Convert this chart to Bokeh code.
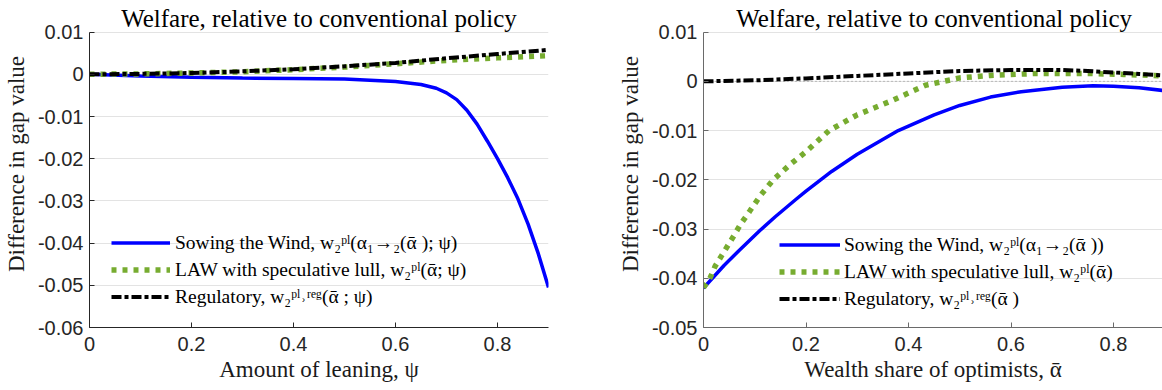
from bokeh.plotting import figure
from bokeh.models import Legend, LegendItem, Label, Span
from bokeh.layouts import row
from bokeh.embed import file_html
from bokeh.resources import INLINE

# ---------------- data ----------------
# Left panel: amount of leaning psi
psi_sow = [0, 0.1, 0.2, 0.3, 0.4, 0.5, 0.57, 0.6, 0.65, 0.68, 0.7, 0.72, 0.74, 0.76, 0.78, 0.8, 0.82,
           0.84, 0.86, 0.88, 0.9]
sow_left = [0, -0.0004, -0.0007, -0.0009, -0.001, -0.0011, -0.0015, -0.0017, -0.0024, -0.0033, -0.0044,
            -0.006, -0.0085, -0.0118, -0.0158, -0.020, -0.0245, -0.0295, -0.0355, -0.0425, -0.0505]
psi_grid = [0, 0.1, 0.2, 0.3, 0.4, 0.5, 0.6, 0.7, 0.8, 0.9]
law_left = [0, 0.0001, 0.0003, 0.0006, 0.0011, 0.0017, 0.0025, 0.0033, 0.0039, 0.0044]
reg_left = [0, 0.0001, 0.0003, 0.0007, 0.0012, 0.0019, 0.0027, 0.0038, 0.0048, 0.0058]

# Right panel: wealth share of optimists
alpha_sow = [0, 0.04, 0.07, 0.11, 0.14, 0.18, 0.2, 0.25, 0.3, 0.38, 0.45, 0.5, 0.56, 0.62, 0.7, 0.76, 0.8, 0.85, 0.9]
sow_right = [-0.042, -0.0374, -0.0343, -0.0303, -0.0275, -0.024, -0.0223, -0.0183, -0.0148, -0.01, -0.0068,
             -0.0049, -0.0032, -0.0021, -0.0012, -0.0009, -0.0010, -0.0013, -0.0019]
alpha_law = [0, 0.013, 0.023, 0.036, 0.059, 0.072, 0.09, 0.111, 0.136, 0.17, 0.2, 0.245, 0.3, 0.368, 0.433,
             0.5, 0.56, 0.65, 0.75, 0.82, 0.9]
law_right = [-0.0419, -0.0399, -0.0375, -0.0353, -0.0314, -0.0291, -0.0264, -0.0232, -0.0200, -0.0168, -0.0143,
             -0.0100, -0.0068, -0.0039, -0.0008, 0.0007, 0.0012, 0.0016, 0.0016, 0.0014, 0.0011]
alpha_reg = [0, 0.1, 0.2, 0.3, 0.4, 0.5, 0.6, 0.7, 0.75, 0.8, 0.85, 0.9]
reg_right = [0, 0.0002, 0.0006, 0.0011, 0.0016, 0.0021, 0.0023, 0.0023, 0.0021, 0.0018, 0.0015, 0.0012]

x_ticks = [0, 0.2, 0.4, 0.6, 0.8]
x_tick_labels = ["0", "0.2", "0.4", "0.6", "0.8"]
y_ticks_left = [0.01, 0, -0.01, -0.02, -0.03, -0.04, -0.05, -0.06]
y_labels_left = ["0.01", "0", "-0.01", "-0.02", "-0.03", "-0.04", "-0.05", "-0.06"]
y_ticks_right = [0.01, 0, -0.01, -0.02, -0.03, -0.04, -0.05]
y_labels_right = ["0.01", "0", "-0.01", "-0.02", "-0.03", "-0.04", "-0.05"]

title_text = "Welfare, relative to conventional policy"
ylabel_text = "Difference in gap value"
xlabel_left = "Amount of leaning, \u03c8"
xlabel_right = "Wealth share of optimists, \u1fb1"

leg_left = ["Sowing the Wind, w\u2082\u1d56\u02e1(\u03b1\u2081\u2192\u2082(\u1fb1 ); \u03c8)",
            "LAW with speculative lull, w\u2082\u1d56\u02e1(\u1fb1; \u03c8)",
            "Regulatory, w\u2082\u1d56\u02e1\u02d2\u02b3\u1d49\u1d4d(\u1fb1 ; \u03c8)"]
leg_right = ["Sowing the Wind, w\u2082\u1d56\u02e1(\u03b1\u2081\u2192\u2082(\u1fb1 ))",
             "LAW with speculative lull, w\u2082\u1d56\u02e1(\u1fb1)",
             "Regulatory, w\u2082\u1d56\u02e1\u02d2\u02b3\u1d49\u1d4d(\u1fb1 )"]

BLUE = "#0000ff"
GREEN = "#77ac30"
BLACK = "#000000"
SERIF = "Liberation Serif"
SANS = "Liberation Sans"

FRAME_H = 327          # frame spans canvas top to the x axis
PLOT_TOP_PX = 31.6     # pixel position of the top tick (0.01) inside the frame


def make_panel(width, border_left, border_right, x_end, y_start, yt, ytl, axis_color, xlabel):
    # extend the y range above 0.01 so the title can sit inside the frame area
    per_px = (0.01 - y_start) / (FRAME_H - PLOT_TOP_PX)
    y_end = 0.01 + PLOT_TOP_PX * per_px
    p = figure(width=width, height=390, x_range=(0, x_end), y_range=(y_start, y_end),
               output_backend="svg", toolbar_location=None,
               min_border_left=border_left, min_border_right=border_right,
               min_border_top=0, min_border_bottom=390 - FRAME_H)
    p.outline_line_color = None
    p.background_fill_color = "white"
    p.border_fill_color = "white"
    p.xgrid.visible = False
    p.ygrid.grid_line_color = "#e3e3e3"
    p.ygrid.grid_line_width = 1

    p.xaxis.ticker = x_ticks
    p.xaxis.major_label_overrides = dict(zip(x_ticks, x_tick_labels))
    p.yaxis.ticker = yt
    p.yaxis.major_label_overrides = dict(zip(yt, ytl))
    p.yaxis.bounds = (y_start, 0.01)
    for ax in (p.xaxis[0], p.yaxis[0]):
        ax.axis_line_color = axis_color
        ax.major_tick_line_color = axis_color
        ax.major_tick_in = 5
        ax.major_tick_out = 0
        ax.minor_tick_line_color = None
        ax.major_label_text_font = SANS
        ax.major_label_text_font_size = "20px"
        ax.major_label_text_color = "#262626"
        ax.major_label_standoff = 6
        ax.axis_label_text_font = SERIF
        ax.axis_label_text_font_size = "23px"
        ax.axis_label_text_font_style = "normal"
        ax.axis_label_text_color = "#1a1a1a"
    p.xaxis.major_label_standoff = 9
    p.yaxis.axis_label = ylabel_text
    p.yaxis.axis_label_standoff = 6
    p.xaxis.axis_label = xlabel
    p.xaxis.axis_label_standoff = 3

    p.add_layout(Label(x=0.45, y=FRAME_H - 18, x_units="data", y_units="screen", text=title_text,
                       text_align="center", text_baseline="alphabetic",
                       text_font=SERIF, text_font_size="25px", text_color="black"))
    return p


def add_legend(p, renderers, labels, loc, gw, standoff):
    items = [LegendItem(label=lab, renderers=[r]) for lab, r in zip(labels, renderers)]
    leg = Legend(items=items, location=loc, glyph_width=gw, glyph_height=27, label_height=27,
                 spacing=0, padding=0, margin=0, label_standoff=standoff,
                 border_line_alpha=0, background_fill_alpha=0,
                 label_text_font=SERIF, label_text_font_size="19.5px", label_text_color="black")
    p.add_layout(leg, "center")


# ---------------- left panel ----------------
p1 = make_panel(580, 87, 32, 0.9, -0.06, y_ticks_left, y_labels_left, "#262626", xlabel_left)
r1 = p1.line(psi_sow, sow_left, line_color=BLUE, line_width=3.5)
r2 = p1.line(psi_grid, law_left, line_color=GREEN, line_width=5.5, line_dash="5 6")
r3 = p1.line(psi_grid, reg_left, line_color=BLACK, line_width=4, line_dash="10 3 4 3")
add_legend(p1, [r1, r2, r3], leg_left, (22, 17), 59, 5)

# ---------------- right panel ----------------
p2 = make_panel(582, 123, 0, 0.8956, -0.05, y_ticks_right, y_labels_right, "#6a6a6a", xlabel_right)
p2.add_layout(Span(location=0, dimension="width", line_color="#8a8a8a", line_width=1,
                   line_dash="1 3", level="underlay"))
s1 = p2.line(alpha_sow, sow_right, line_color=BLUE, line_width=3.5)
s2 = p2.line(alpha_law, law_right, line_color=GREEN, line_width=5.5, line_dash="5 6")
s3 = p2.line(alpha_reg, reg_right, line_color=BLACK, line_width=4, line_dash="10 3 4 3")
add_legend(p2, [s1, s2, s3], leg_right, (76, 15), 61, 4)

layout = row(p1, p2)
open("out.html", "w").write(file_html(layout, INLINE))
